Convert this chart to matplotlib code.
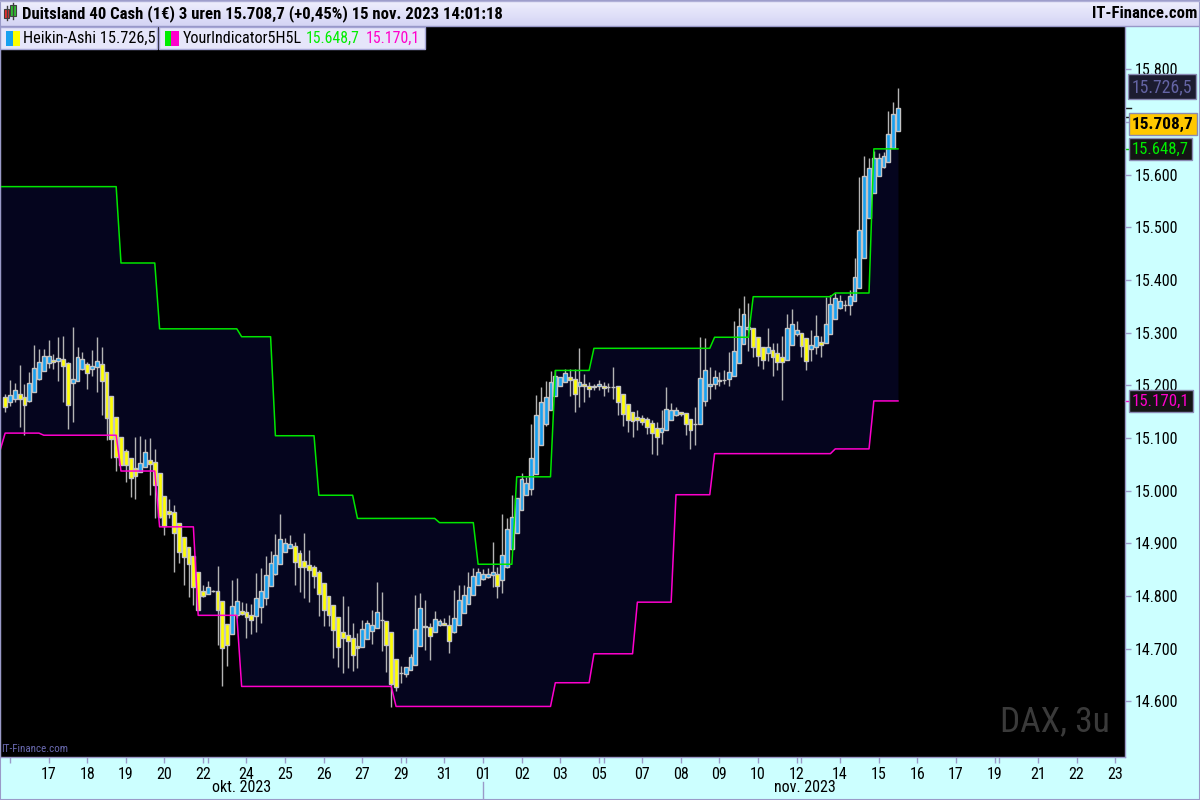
import numpy as np
import matplotlib
matplotlib.use('Agg')
import matplotlib.pyplot as plt
from matplotlib import font_manager as fm
from matplotlib.patches import Rectangle
from matplotlib.lines import Line2D
from matplotlib.colors import LinearSegmentedColormap
from matplotlib.transforms import blended_transform_factory

# ---------------- data (Heikin-Ashi, 3h bars) ----------------
ha_open = [
    15177, 15168, 15174, 15183, 15177, 15170, 15187, 15211, 15227, 15242,
    15248, 15245, 15250, 15242, 15204, 15208, 15230, 15240, 15230, 15234,
    15240, 15225, 15180, 15139, 15101, 15075, 15061, 15042, 15035, 15045,
    15058, 15054, 15033, 14990, 14961, 14960, 14939, 14912, 14893, 14876,
    14846, 14809, 14804, 14810, 14810, 14790, 14746, 14727, 14764, 14772,
    14770, 14764, 14761, 14778, 14796, 14818, 14841, 14860, 14884, 14891,
    14895, 14881, 14867, 14859, 14854, 14846, 14825, 14799, 14782, 14759,
    14731, 14725, 14720, 14704, 14702, 14719, 14734, 14739, 14755, 14753,
    14731, 14681, 14654, 14652, 14659, 14669, 14704, 14742, 14741, 14732,
    14744, 14748, 14745, 14731, 14745, 14768, 14785, 14802, 14820, 14832,
    14836, 14840, 14842, 14830, 14854, 14889, 14920, 14963, 14991, 15003,
    15031, 15086, 15127, 15152, 15179, 15198, 15206, 15215, 15211, 15198,
    15202, 15199, 15196, 15198, 15199, 15197, 15197, 15198, 15183, 15164,
    15149, 15139, 15138, 15135, 15128, 15119, 15111, 15114, 15133, 15143,
    15149, 15147, 15136, 15127, 15126, 15170, 15199, 15203, 15209, 15209,
    15211, 15218, 15242, 15278, 15307, 15309, 15291, 15272, 15261, 15266,
    15261, 15253, 15247, 15277, 15297, 15300, 15289, 15268, 15272, 15282,
    15280, 15298, 15326, 15346, 15352, 15352, 15359, 15384, 15441, 15518,
    15565, 15598, 15615, 15624, 15651, 15682]
ha_high = [
    15184, 15209, 15205, 15239, 15203, 15225, 15276, 15269, 15268, 15286,
    15259, 15291, 15294, 15244, 15310, 15272, 15263, 15244, 15267, 15291,
    15272, 15225, 15180, 15139, 15101, 15078, 15061, 15101, 15103, 15098,
    15100, 15079, 15033, 14990, 14983, 14972, 14939, 14912, 14893, 14876,
    14846, 14821, 14829, 14812, 14856, 14790, 14746, 14830, 14833, 14789,
    14786, 14784, 14843, 14852, 14876, 14885, 14917, 14955, 14910, 14915,
    14902, 14887, 14920, 14887, 14859, 14849, 14825, 14799, 14782, 14759,
    14799, 14780, 14748, 14729, 14755, 14755, 14773, 14827, 14807, 14753,
    14731, 14681, 14666, 14664, 14690, 14802, 14805, 14792, 14748, 14772,
    14756, 14758, 14764, 14811, 14821, 14821, 14845, 14852, 14852, 14851,
    14852, 14902, 14854, 14955, 14948, 14991, 14985, 15034, 15026, 15127,
    15182, 15196, 15207, 15226, 15228, 15215, 15231, 15231, 15231, 15271,
    15221, 15206, 15203, 15210, 15206, 15204, 15235, 15198, 15183, 15164,
    15149, 15152, 15144, 15140, 15133, 15130, 15152, 15196, 15167, 15158,
    15150, 15147, 15136, 15159, 15291, 15289, 15234, 15228, 15225, 15228,
    15263, 15321, 15346, 15370, 15356, 15309, 15291, 15272, 15309, 15280,
    15280, 15293, 15335, 15344, 15322, 15300, 15289, 15305, 15333, 15294,
    15367, 15371, 15375, 15371, 15362, 15381, 15441, 15595, 15636, 15632,
    15644, 15641, 15642, 15721, 15738, 15765]
ha_low = [
    15149, 15160, 15168, 15120, 15105, 15169, 15187, 15209, 15226, 15232,
    15231, 15208, 15169, 15116, 15131, 15208, 15228, 15192, 15218, 15187,
    15143, 15095, 15062, 15037, 15048, 15016, 14988, 14984, 15035, 15045,
    14991, 14947, 14947, 14915, 14947, 14846, 14862, 14821, 14797, 14782,
    14773, 14797, 14804, 14807, 14707, 14628, 14666, 14727, 14758, 14764,
    14720, 14727, 14732, 14748, 14783, 14818, 14840, 14860, 14884, 14890,
    14821, 14808, 14796, 14789, 14814, 14761, 14742, 14742, 14682, 14664,
    14654, 14663, 14657, 14663, 14702, 14719, 14708, 14739, 14695, 14655,
    14589, 14620, 14635, 14645, 14659, 14669, 14704, 14698, 14679, 14732,
    14742, 14744, 14691, 14729, 14745, 14768, 14785, 14802, 14820, 14830,
    14833, 14816, 14796, 14805, 14852, 14887, 14920, 14963, 14991, 14991,
    15031, 15086, 15122, 15152, 15179, 15198, 15206, 15180, 15150, 15158,
    15169, 15177, 15190, 15190, 15180, 15187, 15174, 15144, 15122, 15112,
    15102, 15114, 15124, 15108, 15070, 15068, 15089, 15114, 15133, 15141,
    15141, 15106, 15078, 15087, 15126, 15160, 15173, 15193, 15199, 15203,
    15199, 15218, 15242, 15278, 15264, 15253, 15237, 15231, 15245, 15217,
    15228, 15171, 15247, 15277, 15293, 15254, 15228, 15245, 15259, 15253,
    15280, 15298, 15326, 15344, 15341, 15334, 15359, 15384, 15441, 15518,
    15565, 15598, 15613, 15624, 15651, 15682]
ha_close = [
    15158, 15181, 15191, 15174, 15162, 15204, 15233, 15244, 15255, 15255,
    15244, 15252, 15236, 15163, 15211, 15253, 15249, 15223, 15237, 15245,
    15208, 15138, 15097, 15064, 15049, 15049, 15023, 15028, 15052, 15073,
    15051, 15010, 14949, 14932, 14956, 14920, 14884, 14873, 14860, 14816,
    14773, 14799, 14816, 14809, 14773, 14701, 14706, 14780, 14791, 14766,
    14759, 14755, 14796, 14810, 14840, 14863, 14878, 14908, 14901, 14899,
    14864, 14854, 14854, 14849, 14837, 14804, 14773, 14764, 14736, 14702,
    14720, 14714, 14688, 14701, 14737, 14748, 14745, 14770, 14754, 14706,
    14633, 14626, 14653, 14664, 14684, 14737, 14777, 14741, 14723, 14756,
    14753, 14744, 14715, 14758, 14792, 14802, 14816, 14838, 14846, 14841,
    14842, 14846, 14819, 14878, 14926, 14950, 14985, 15021, 15015, 15061,
    15144, 15168, 15177, 15206, 15217, 15215, 15223, 15209, 15183, 15206,
    15198, 15193, 15199, 15202, 15194, 15197, 15196, 15168, 15145, 15134,
    15132, 15133, 15130, 15120, 15110, 15102, 15119, 15155, 15153, 15153,
    15145, 15126, 15114, 15126, 15213, 15228, 15203, 15215, 15208, 15210,
    15225, 15264, 15313, 15336, 15311, 15272, 15255, 15247, 15272, 15254,
    15244, 15244, 15308, 15317, 15304, 15275, 15245, 15276, 15293, 15277,
    15317, 15354, 15365, 15359, 15353, 15369, 15406, 15495, 15598, 15613,
    15632, 15632, 15636, 15677, 15714, 15726.5]

# indicator "YourIndicator5H5L": step levels and the bar where each level starts
green_levels = [15577, 15432, 15307, 15292, 15104, 14991, 14947, 14939,
                14860, 15026, 15228, 15270, 15291, 15368, 15375, 15648.7]
green_start_bars = [-1, 24, 32, 49, 56, 65, 73, 90, 98, 106, 114, 122,
                    147, 155, 172, 180]
magenta_levels = [15078, 15109, 15105, 15037, 14931, 14763, 14628, 14590,
                  14635, 14690, 14788, 14992, 15070, 15079, 15170.1]
magenta_start_bars = [-1, 0, 8, 24, 32, 40, 49, 81, 114, 122, 131, 139,
                      147, 172, 180]

price_ticks = [14600, 14700, 14800, 14900, 15000, 15100, 15200, 15300,
               15400, 15500, 15600, 15700, 15800]
hidden_price_labels = [15700]   # covered by the last-value boxes
day_tick_bars = [1, 9, 17, 25, 33, 41, 42, 50, 58, 66, 74, 82, 83, 91, 99,
                 107, 115, 123, 124, 132, 140, 148, 156, 164, 165, 173, 181,
                 189, 197, 205, 206, 214, 222, 230]
day_tick_labels = ['', '17', '18', '19', '20', '22', '', '24', '25', '26',
                   '27', '29', '', '31', '01', '02', '03', '05', '', '07',
                   '08', '09', '10', '12', '', '14', '15', '16', '17', '19',
                   '', '21', '22', '23']
month_labels = ['okt. 2023', 'nov. 2023']
month_label_bars = [48.9, 165.7]
month_start_bar = 99

last_price = 15708.7
header_text = "Duitsland 40 Cash (1€) 3 uren 15.708,7 (+0,45%) 15 nov. 2023 14:01:18"
site_text = "IT-Finance.com"
watermark = "DAX, 3u"


def eu(v, dec=1):
    s = f"{v:,.{dec}f}"
    return s.replace(',', '#').replace('.', ',').replace('#', '.')


def has_font(name, **kw):
    try:
        return fm.findfont(fm.FontProperties(family=name, **kw),
                           fallback_to_default=False)
    except Exception:
        return None


SANS = 'Liberation Sans' if has_font('Liberation Sans') else 'DejaVu Sans'
NARROW = dict(family=SANS, stretch='normal')
for fam in ['Liberation Sans Narrow', 'Arial Narrow', 'Nimbus Sans Narrow',
            'Roboto Condensed', 'Open Sans Condensed']:
    if has_font(fam):
        NARROW = dict(family=fam, stretch='normal')
        break
else:
    p = has_font('DejaVu Sans', stretch='condensed')
    if p and 'Condensed' in p:
        NARROW = dict(family='DejaVu Sans', stretch='condensed')

plt.rcParams['font.family'] = [NARROW['family']]
plt.rcParams['font.stretch'] = NARROW['stretch']

W, H = 1200, 800
fig = plt.figure(figsize=(12, 8), dpi=100)
fig.patch.set_facecolor('#ccffff')


def fx(x):
    return x / W


def fy(y):
    return 1 - y / H


def fit(t, target):
    w = t.get_window_extent(fig.canvas.get_renderer()).width
    t.set_fontsize(t.get_fontsize() * target / w)


PLOT_TOP, PLOT_BOT, PLOT_RIGHT = 26, 757, 1125
ax = fig.add_axes([0, fy(PLOT_BOT), fx(PLOT_RIGHT), (PLOT_BOT - PLOT_TOP) / H])
ax.set_facecolor('black')

n = len(ha_close)
x = np.arange(n)
o = np.array(ha_open, float)
c = np.array(ha_close, float)
hi = np.array(ha_high, float)
lo = np.array(ha_low, float)

line_x = np.arange(-1, n)
green = np.repeat(green_levels, np.diff(green_start_bars + [n]))
magenta = np.repeat(magenta_levels, np.diff(magenta_start_bars + [n]))

ax.fill_between(line_x, magenta, green, color='#05051e', lw=0, zorder=1)
ax.vlines(x, lo, hi, color='#b4b4b4', lw=1, zorder=2)
up = c >= o
ax.bar(x, np.abs(c - o), bottom=np.minimum(o, c), width=0.8,
       color=np.where(up, '#18a0f0', '#ffff00'), edgecolor='#c4c4c4',
       linewidth=1, zorder=3)
ax.plot(line_x, green, color='#00e600', lw=1.1, zorder=4)
ax.plot(line_x, magenta, color='#ff00cc', lw=1.1, zorder=4)

ax.set_xlim(-1.07, 232.04)
ax.set_ylim(14494, 15882)

axis_col = '#9a9ac8'
ax.spines['top'].set_visible(False)
for s in ['left', 'right', 'bottom']:
    ax.spines[s].set_color(axis_col)
    ax.spines[s].set_linewidth(1)

ax.yaxis.tick_right()
ax.set_yticks(price_ticks)
ax.set_yticklabels(['' if v in hidden_price_labels else eu(v, 0)
                    for v in price_ticks])
ax.set_xticks(day_tick_bars)
ax.set_xticklabels(day_tick_labels)
ax.tick_params(axis='y', direction='out', length=4, width=1, color=axis_col,
               pad=3, labelsize=11, labelcolor='black')
ax.tick_params(axis='x', direction='out', length=4, width=1, color=axis_col,
               pad=3, labelsize=11, labelcolor='black')

fig.canvas.draw()
R = fig.canvas.get_renderer()
ref = [t for t in ax.get_yticklabels() if t.get_text() == '15.800'][0]
scale = 44.0 / ref.get_window_extent(R).width
tick_fs = 11 * scale
ax.tick_params(axis='both', labelsize=tick_fs)

trans_xa = blended_transform_factory(ax.transData, ax.transAxes)
trans_ay = blended_transform_factory(ax.transAxes, ax.transData)
ph = PLOT_BOT - PLOT_TOP
for lbl, b in zip(month_labels, month_label_bars):
    t = ax.text(b, -(788 - PLOT_BOT) / ph, lbl, transform=trans_xa, ha='center',
                va='center', fontsize=tick_fs, color='black', clip_on=False)
ax.add_line(Line2D([month_start_bar, month_start_bar],
                   [-(782 - PLOT_BOT) / ph, -(800 - PLOT_BOT) / ph],
                   transform=trans_xa, color=axis_col, lw=1, clip_on=False))

# last-value boxes on the price scale
box_specs = [
    (ha_close[-1], 21, '#1c1c30', '#6464a4', 'normal', '#202020', 60),
    (last_price, -7, '#ffc800', 'black', 'bold', '#202020', 61),
    (green_levels[-1], 0, '#141414', '#00ee00', 'normal', '#00cc00', 57),
    (magenta_levels[-1], 0, '#141414', '#ff00cc', 'normal', '#ff00cc', 57),
]
for val, off, fc, tc, wt, tkc, wtarget in box_specs:
    a = ax.annotate(eu(val), xy=(1.0, val), xycoords=trans_ay,
                    xytext=(7, off), textcoords='offset pixels', ha='left',
                    va='center', fontsize=12, color=tc, fontweight=wt,
                    annotation_clip=False, zorder=6,
                    bbox=dict(boxstyle='square,pad=0.2', fc=fc, ec='#8a8ab4', lw=1))
    fit(a, wtarget)
    ax.add_line(Line2D([1.0, 1.0 + 6 / PLOT_RIGHT], [val, val], transform=trans_ay,
                       color=tkc, lw=1, clip_on=False))

# ---------------- header ----------------
hdr = fig.add_axes([0, fy(PLOT_TOP), 1, PLOT_TOP / H])
grad = np.linspace(0, 1, 50).reshape(-1, 1)
hdr.imshow(grad, aspect='auto', extent=[0, 1, 0, 1],
           cmap=LinearSegmentedColormap.from_list('h', ['#f0f0fe', '#d4d4f4']))
hdr.set_axis_off()
fig.add_artist(Line2D([0, 1], [fy(PLOT_TOP), fy(PLOT_TOP)], color='#9898c8', lw=1))
fig.add_artist(Line2D([0, 1], [fy(0.5), fy(0.5)], color='#b0b0d8', lw=1))

# icon
for (x0, y0, w_, h_, col, wy0, wy1) in [(4, 9, 5, 9, '#e83030', 6, 20),
                                        (10, 5, 6, 11, '#30c030', 3, 19)]:
    fig.add_artist(Line2D([fx(x0 + w_ / 2)] * 2, [fy(wy0), fy(wy1)], color='#404040', lw=1))
    fig.add_artist(Rectangle((fx(x0), fy(y0 + h_)), fx(w_), h_ / H, fc=col,
                             ec='#404040', lw=0.8, transform=fig.transFigure))

ht = fig.text(fx(22), fy(13.5), header_text, ha='left', va='center', fontsize=12,
              fontweight='bold', color='black')
st = fig.text(fx(1197), fy(13.5), site_text, ha='right', va='center', fontsize=12,
              fontweight='bold', color='black')
fig.canvas.draw()
fit(ht, 480)
fit(st, 105)

# legend boxes
leg_fc, leg_ec = '#e6e6fa', '#a8a8d8'
fig.add_artist(Rectangle((fx(0), fy(49)), fx(157), 22 / H, fc=leg_fc, ec=leg_ec,
                         lw=1, transform=fig.transFigure))
fig.add_artist(Rectangle((fx(159), fy(49)), fx(266), 22 / H, fc=leg_fc, ec=leg_ec,
                         lw=1, transform=fig.transFigure))
for (x0, x1, col) in [(5.5, 13.4, '#18a0f0'), (13.4, 20, '#ffff00'),
                      (164.5, 171.3, '#00ee00'), (171.3, 179, '#ff00cc')]:
    fig.add_artist(Rectangle((fx(x0), fy(46)), fx(x1 - x0), 15 / H, fc=col,
                             ec='none', transform=fig.transFigure))
legend_items = [
    (23, "Heikin-Ashi " + eu(ha_close[-1]), 'black', 133),
    (183, "YourIndicator5H5L", 'black', 119),
    (306, eu(green_levels[-1]), '#00ee00', 54),
    (366, eu(magenta_levels[-1]), '#ff00cc', 54),
]
for x0, txt, col, wtarget in legend_items:
    t = fig.text(fx(x0), fy(38.5), txt, ha='left', va='center', fontsize=12,
                 color=col)
    fit(t, wtarget)

# small site mark and watermark inside the plot
sm = fig.text(fx(1), fy(749), site_text, ha='left', va='center', fontsize=7,
              color='#6a6ab0')
fit(sm, 67)
wm = fig.text(fx(1110), fy(722), watermark, ha='right', va='center', fontsize=24,
              color='#3a3a3a')
fit(wm, 110)

fig.add_artist(Rectangle((0, 0), 1, 1, fc='none', ec='#9a9ac8', lw=1.5,
                         transform=fig.transFigure))

fig.savefig('out.png', dpi=100, facecolor=fig.get_facecolor())
